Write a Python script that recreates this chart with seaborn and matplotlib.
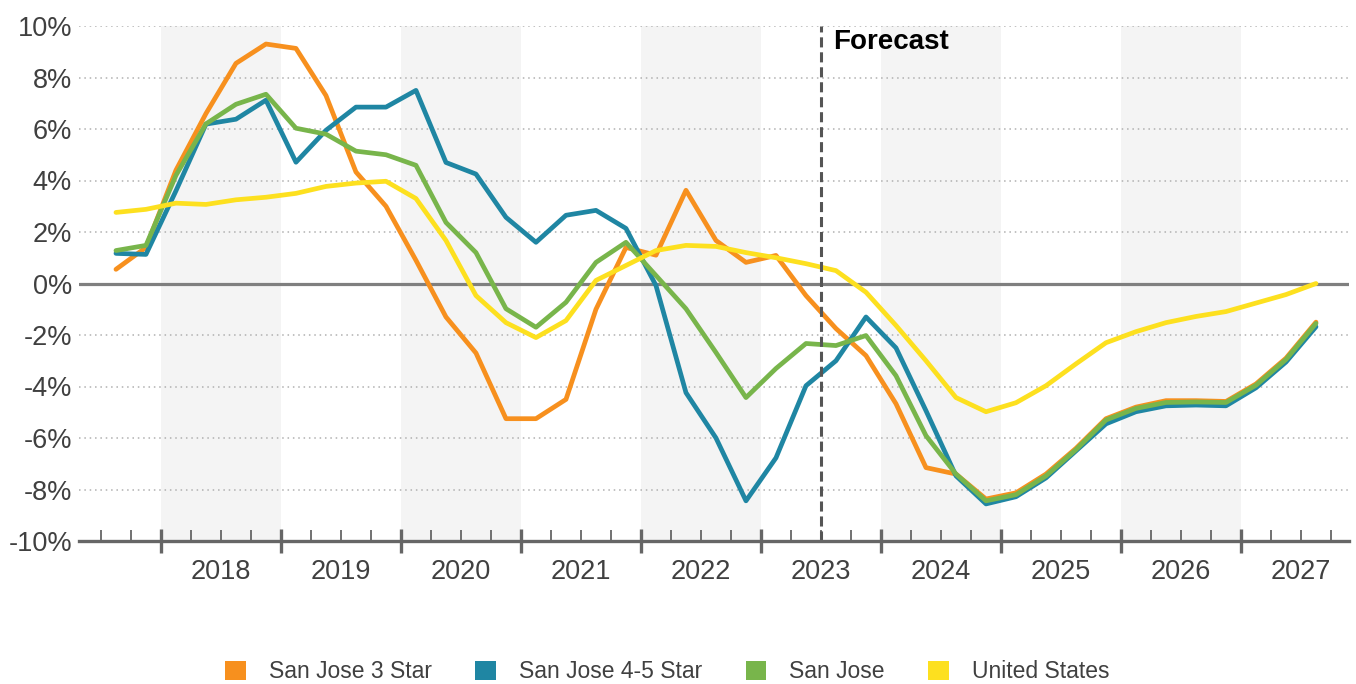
import numpy as np
import pandas as pd
import matplotlib
matplotlib.use("Agg")
import matplotlib.pyplot as plt
from matplotlib.patches import Patch
from matplotlib.transforms import blended_transform_factory
import seaborn as sns

# quarterly data 2017Q3 .. 2027Q3 (year-over-year %)
quarters = pd.period_range("2017Q3", "2027Q3", freq="Q")

sj_3star = [0.55, 1.4, 4.4, 6.6, 8.55, 9.3, 9.13, 7.3, 4.33, 3.0,
            0.9, -1.3, -2.7, -5.25, -5.25, -4.5, -1.0, 1.4, 1.1, 3.62,
            1.67, 0.82, 1.09, -0.47, -1.75, -2.8, -4.67, -7.15, -7.4, -8.37,
            -8.13, -7.4, -6.4, -5.25, -4.8, -4.55, -4.55, -4.58, -3.9, -2.9,
            -1.5]
sj_45star = [1.17, 1.13, 3.6, 6.19, 6.38, 7.12, 4.71, 5.95, 6.85, 6.85,
             7.5, 4.7, 4.25, 2.57, 1.6, 2.65, 2.84, 2.14, -0.08, -4.24,
             -6.0, -8.44, -6.77, -3.97, -3.0, -1.3, -2.5, -4.94, -7.47, -8.56,
             -8.28, -7.55, -6.5, -5.45, -4.98, -4.75, -4.72, -4.75, -4.05, -3.05,
             -1.68]
sj_all = [1.28, 1.48, 4.2, 6.2, 6.96, 7.35, 6.03, 5.8, 5.14, 5.0,
          4.59, 2.37, 1.2, -0.98, -1.7, -0.73, 0.82, 1.6, 0.31, -0.98,
          -2.68, -4.43, -3.3, -2.33, -2.41, -2.02, -3.58, -5.91, -7.4, -8.44,
          -8.2, -7.47, -6.45, -5.3, -4.85, -4.62, -4.6, -4.62, -3.95, -2.95,
          -1.55]
us = [2.76, 2.88, 3.12, 3.07, 3.25, 3.35, 3.5, 3.77, 3.9, 3.97,
      3.3, 1.67, -0.47, -1.52, -2.1, -1.44, 0.12, 0.7, 1.28, 1.48,
      1.44, 1.2, 1.0, 0.77, 0.5, -0.34, -1.63, -3.0, -4.43, -4.98,
      -4.63, -3.97, -3.12, -2.3, -1.87, -1.52, -1.28, -1.09, -0.76, -0.43,
      0.0]

series_names = ["San Jose 3 Star", "San Jose 4-5 Star", "San Jose", "United States"]
colors = ["#f7901e", "#1f86a3", "#78b54b", "#fde01f"]
years = list(range(2018, 2028))
shaded_years = [2018, 2020, 2022, 2024, 2026]
yticks = list(range(-10, 11, 2))
forecast_start = 2023.5

# x position = middle of each quarter
xq = [q.year + (q.quarter - 1) / 4 + 0.125 for q in quarters]

frames = []
for name, vals in zip(series_names, [sj_3star, sj_45star, sj_all, us]):
    frames.append(pd.DataFrame({"x": xq, "value": vals, "series": name}))
df = pd.concat(frames, ignore_index=True)

sns.set_style("white")
plt.rcParams['font.family'] = ['Liberation Sans', 'DejaVu Sans']

fig = plt.figure(figsize=(13.56, 6.84), dpi=100)
ax = fig.add_axes([79 / 1356, 143 / 684, (1349 - 79) / 1356, (541 - 26) / 684])

# alternating year bands
for yr in shaded_years:
    ax.axvspan(yr, yr + 1, color="#f4f4f4", zorder=0, linewidth=0)

# dotted grid
for v in yticks:
    if v not in (0, -10):
        ax.axhline(v, color="#b0b0b0", linestyle=(0, (1, 2.5)), linewidth=1.1, zorder=0.5)
ax.axhline(0, color="#7f7f7f", linewidth=2.3, zorder=1)

sns.lineplot(data=df, x="x", y="value", hue="series", hue_order=series_names,
             palette=colors, linewidth=3.4, legend=False, ax=ax, zorder=3)

ax.axvline(forecast_start, color="#555555", linestyle=(0, (3.3, 1.6)), linewidth=2.2, zorder=4)
ax.text(forecast_start + 0.1, 9.38, "Forecast", fontsize=20, fontweight="bold",
        color="black", va="center", ha="left")

ax.set_xlim(2017.317, 2027.9)
ax.set_ylim(-10, 10)

ax.set_yticks(yticks)
ax.set_yticklabels([f"{v}%" for v in yticks], fontsize=19.5, color="#404040")
ax.set_xticks(years)
ax.set_xticklabels([])
ax.set_xticks([t for t in np.arange(2017.5, 2028, 0.25) if t % 1 != 0], minor=True)
ax.tick_params(axis="y", left=False, length=0, pad=5)
ax.tick_params(axis="x", which="major", bottom=True, direction="inout", length=17,
               width=2.4, color="#666666")
ax.tick_params(axis="x", which="minor", bottom=True, direction="in", length=8,
               width=1.3, color="#666666")

trans = blended_transform_factory(ax.transData, ax.transAxes)
for yr in years:
    ax.text(yr + 0.5, -0.06, str(yr), transform=trans, ha="center", va="center",
            fontsize=19.5, color="#404040")

for s in ["top", "right", "left"]:
    ax.spines[s].set_visible(False)
ax.spines["bottom"].set_color("#666666")
ax.spines["bottom"].set_linewidth(2.4)
ax.spines["bottom"].set_zorder(5)
ax.set_xlabel("")
ax.set_ylabel("")

handles = [Patch(facecolor=c, edgecolor="none", label=n) for n, c in zip(series_names, colors)]
fig.legend(handles=handles, loc="center", bbox_to_anchor=(0.492, 12 / 684), ncol=4,
           frameon=False, fontsize=16.5, handlelength=0.9, handleheight=0.9,
           handletextpad=1.0, columnspacing=1.9, labelcolor="#404040")

fig.savefig("out.png", dpi=100)
